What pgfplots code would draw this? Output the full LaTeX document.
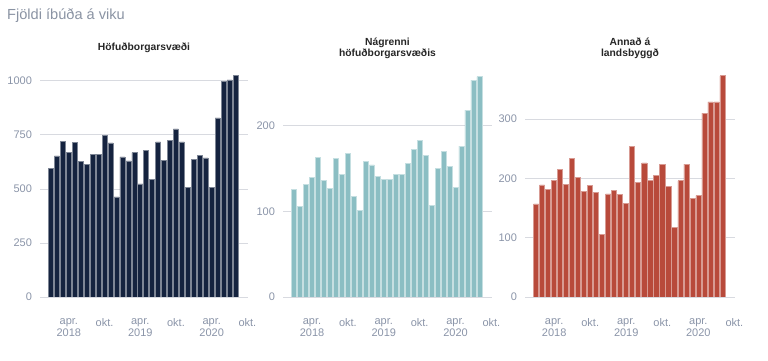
\documentclass[border=0pt]{standalone}
\usepackage{fontspec}
\setmainfont{Liberation Sans}
\usepackage{pgfplots}
\pgfplotsset{compat=1.18}
\definecolor{navybar}{HTML}{15233F}
\definecolor{tealbar}{HTML}{8BBEC3}
\definecolor{redbar}{HTML}{B84A3B}
\definecolor{tickgray}{HTML}{8A94A8}
\definecolor{gridgray}{HTML}{D8DAE0}
\definecolor{titlegray}{HTML}{8A93A3}
\pgfplotsset{
  panel/.style={
    scale only axis, width=209pt, height=223pt, anchor=south west,
    xmin=-1.85, xmax=33.1, ymin=0,
    axis line style={draw=none}, tick style={draw=none},
    ymajorgrids, grid style={color=gridgray, line width=0.9pt},
    xtick={3,9,15,21,27,33},
    xticklabels={{apr.\\2018},{okt.},{apr.\\2019},{okt.},{apr.\\2020},{okt.}},
    xticklabel style={align=center, font=\fontsize{11}{11.5}\selectfont, text=tickgray, yshift=-14pt},
    yticklabel style={font=\fontsize{11}{12}\selectfont, text=tickgray, xshift=-4.5pt},
    /pgf/number format/assume math mode=true,
    /pgf/number format/1000 sep={},
    ybar, bar width=0.84,
    title style={at={(0.5,1)}, anchor=center, yshift=20pt, align=center,
      font=\bfseries\fontsize{10.3}{11}\selectfont, text=black!85},
  }
}
\begin{document}
\begin{tikzpicture}
\path[use as bounding box] (0pt,0pt) rectangle (768pt,361pt);
\node[anchor=west, text=titlegray, font=\fontsize{14.6}{16}\selectfont, inner sep=0pt] at (7pt,345.5pt) {Fjöldi íbúða á viku};

\begin{axis}[panel, at={(40pt,64pt)}, width=208pt, ymax=1032,
  ytick={0,250,500,750,1000}, title={Höfuðborgarsvæði}]
\addplot[fill=navybar, draw=navybar!55!white, line width=0.6pt] coordinates {
(0,594)(1,653)(2,719)(3,668)(4,716)(5,628)(6,613)(7,659)(8,659)(9,748)
(10,713)(11,463)(12,648)(13,630)(14,668)(15,523)(16,677)(17,546)(18,718)(19,631)
(20,725)(21,778)(22,718)(23,506)(24,637)(25,656)(26,644)(27,509)(28,829)(29,997)
(30,1005)(31,1025)};
\end{axis}

\begin{axis}[panel, at={(283pt,64pt)}, width=209pt, ymax=260,
  ytick={0,100,200}, title={Nágrenni\\höfuðborgarsvæðis}]
\addplot[fill=tealbar, draw=tealbar!50!white, line width=0.6pt] coordinates {
(0,125)(1,106)(2,131)(3,139)(4,163)(5,136)(6,127)(7,162)(8,143)(9,167)
(10,117)(11,101)(12,158)(13,154)(14,141)(15,137)(16,137)(17,143)(18,143)(19,156)
(20,172)(21,183)(22,165)(23,107)(24,150)(25,170)(26,152)(27,128)(28,176)(29,218)
(30,253)(31,257)};
\end{axis}

\begin{axis}[panel, at={(525pt,64pt)}, width=210pt, ymax=376,
  ytick={0,100,200,300}, title={Annað á\\landsbyggð}]
\addplot[fill=redbar, draw=redbar!55!white, line width=0.6pt] coordinates {
(0,157)(1,189)(2,181)(3,196)(4,215)(5,190)(6,234)(7,202)(8,178)(9,188)
(10,176)(11,105)(12,174)(13,180)(14,173)(15,158)(16,254)(17,193)(18,226)(19,196)
(20,205)(21,223)(22,186)(23,118)(24,196)(25,224)(26,166)(27,171)(28,310)(29,329)
(30,329)(31,373)};
\end{axis}
\end{tikzpicture}
\end{document}
